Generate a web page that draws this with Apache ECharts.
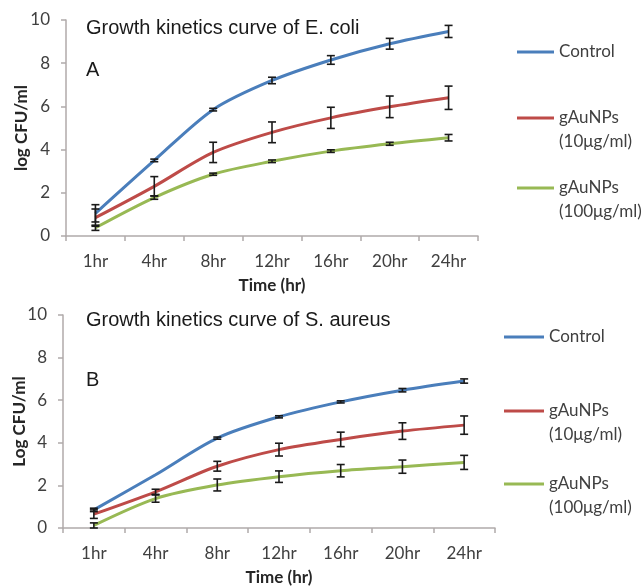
<!DOCTYPE html>
<html>
<head>
<meta charset="utf-8">
<script src="https://cdn.jsdelivr.net/npm/echarts@6/dist/echarts.min.js"></script>
<style>html,body{margin:0;padding:0;background:#fff;}#c{width:644px;height:588px;}</style>
</head>
<body>
<div id="c"></div>
<script>
const categories = ['1hr', '4hr', '8hr', '12hr', '16hr', '20hr', '24hr'];
const yTicks = [0, 2, 4, 6, 8, 10];
const seriesNames = ['Control', 'gAuNPs (10μg/ml)', 'gAuNPs (100μg/ml)'];

// E. coli (A)
const ecoliControl = [1.05, 3.5, 5.85, 7.2, 8.15, 8.9, 9.47];
const ecoliControlErr = [0.4, 0.06, 0.06, 0.15, 0.2, 0.25, 0.28];
const ecoliLow = [0.85, 2.3, 3.87, 4.8, 5.47, 5.98, 6.4];
const ecoliLowErr = [0.4, 0.45, 0.47, 0.48, 0.49, 0.5, 0.54];
const ecoliHigh = [0.38, 1.78, 2.86, 3.46, 3.93, 4.27, 4.55];
const ecoliHighErr = [0.12, 0.08, 0.05, 0.06, 0.06, 0.07, 0.15];

// S. aureus (B)
const saureusControl = [0.85, 2.5, 4.22, 5.22, 5.92, 6.47, 6.9];
const saureusControlErr = [0.08, 0, 0.05, 0.05, 0.05, 0.08, 0.1];
const saureusLow = [0.65, 1.7, 2.9, 3.68, 4.16, 4.55, 4.83];
const saureusLowErr = [0.2, 0.12, 0.23, 0.3, 0.34, 0.39, 0.43];
const saureusHigh = [0.12, 1.38, 2.02, 2.41, 2.69, 2.88, 3.08];
const saureusHighErr = [0.12, 0.17, 0.28, 0.27, 0.29, 0.31, 0.33];

const colors = ['#4a7ebb', '#be4b48', '#98b954'];
const axisGray = '#b0aaaa';
const labelColor = '#404040';
const font = 'Lato, "Open Sans", sans-serif';
const titleFont = '"Liberation Sans", Arial, sans-serif';

function errData(vals, errs) {
  return vals.map((v, i) => [i, v, errs[i]]);
}
function errRender(params, api) {
  const x = api.value(0), y = api.value(1), e = api.value(2);
  if (!e) return null;
  const t = api.coord([x, y + e]);
  const b = api.coord([x, y - e]);
  const hw = 4;
  const st = { stroke: '#1a1a1a', lineWidth: 1.6 };
  return {
    type: 'group',
    children: [
      { type: 'line', shape: { x1: t[0], y1: t[1], x2: b[0], y2: b[1] }, style: st },
      { type: 'line', shape: { x1: t[0] - hw, y1: t[1], x2: t[0] + hw, y2: t[1] }, style: st },
      { type: 'line', shape: { x1: b[0] - hw, y1: b[1], x2: b[0] + hw, y2: b[1] }, style: st }
    ]
  };
}

function xAxisDef(gridIndex) {
  return {
    type: 'category', gridIndex, data: categories, boundaryGap: true,
    name: 'Time (hr)', nameLocation: 'middle', nameGap: 41,
    nameTextStyle: { fontFamily: font, fontWeight: 'bold', fontSize: 17, color: '#262626' },
    axisLine: { lineStyle: { color: axisGray, width: 1.5 } },
    axisTick: { show: true, length: 5, lineStyle: { color: axisGray, width: 1.5 } },
    axisLabel: { fontFamily: font, fontSize: 17, color: labelColor, margin: 17 },
    splitLine: { show: false }
  };
}
function yAxisDef(gridIndex, name, gap) {
  return {
    type: 'value', gridIndex, min: yTicks[0], max: yTicks[yTicks.length - 1], interval: 2,
    name, nameLocation: 'middle', nameGap: gap, nameMoveOverlap: false,
    nameTextStyle: { fontFamily: font, fontWeight: 'bold', fontSize: 17, color: '#262626' },
    axisLine: { show: true, lineStyle: { color: axisGray, width: 1.5 } },
    axisTick: { show: true, length: 5, lineStyle: { color: axisGray, width: 1.5 } },
    axisLabel: { fontFamily: font, fontSize: 17, color: labelColor, margin: 16 },
    splitLine: { show: false }
  };
}

function lineSeries(name, data, idx, axisIdx) {
  return {
    type: 'line', name, data, xAxisIndex: axisIdx, yAxisIndex: axisIdx,
    smooth: 0.3, symbol: 'none', showSymbol: false,
    lineStyle: { color: colors[idx], width: 3 }, itemStyle: { color: colors[idx] },
    z: 2
  };
}
function errSeries(name, vals, errs, axisIdx) {
  return {
    type: 'custom', name: name + ' err', xAxisIndex: axisIdx, yAxisIndex: axisIdx,
    data: errData(vals, errs), renderItem: errRender, z: 5, silent: true
  };
}

function legendDef(name, left, top, w, two) {
  return {
    data: [name], left, top, orient: 'vertical', padding: 0,
    itemWidth: w, itemHeight: 3, icon: 'rect',
    formatter: n => two ? ' \n' + n.replace(' ', '\n') : n,
    textStyle: { fontFamily: font, fontSize: 17, color: labelColor, lineHeight: 24 },
    selectedMode: false
  };
}

function titleDef(text, top) {
  return {
    text, left: 86, top, padding: 0,
    textStyle: { fontFamily: titleFont, fontWeight: 'normal', fontSize: 20, color: '#1a1a1a', lineHeight: 22 }
  };
}

const chart = echarts.init(document.getElementById('c'), null, { renderer: 'canvas' });
chart.setOption({
  animation: false,
  backgroundColor: '#fff',
  title: [
    titleDef('Growth kinetics curve of E. coli', 17),
    titleDef('A', 59),
    titleDef('Growth kinetics curve of S. aureus', 309),
    titleDef('B', 369)
  ],
  legend: [
    legendDef(seriesNames[0], 517, 40, 37, false),
    legendDef(seriesNames[1], 517, 82, 37, true),
    legendDef(seriesNames[2], 517, 152, 37, true),
    legendDef(seriesNames[0], 504, 325, 40, false),
    legendDef(seriesNames[1], 504, 375, 40, true),
    legendDef(seriesNames[2], 504, 448, 40, true)
  ],
  grid: [
    { left: 66, top: 20, width: 412, height: 216 },
    { left: 63, top: 315, width: 432, height: 213 }
  ],
  xAxis: [xAxisDef(0), xAxisDef(1)],
  yAxis: [yAxisDef(0, 'log CFU/ml', 36), yAxisDef(1, 'Log CFU/ml', 35)],
  series: [
    lineSeries(seriesNames[0], ecoliControl, 0, 0),
    lineSeries(seriesNames[1], ecoliLow, 1, 0),
    lineSeries(seriesNames[2], ecoliHigh, 2, 0),
    lineSeries(seriesNames[0], saureusControl, 0, 1),
    lineSeries(seriesNames[1], saureusLow, 1, 1),
    lineSeries(seriesNames[2], saureusHigh, 2, 1),
    errSeries('A control', ecoliControl, ecoliControlErr, 0),
    errSeries('A low', ecoliLow, ecoliLowErr, 0),
    errSeries('A high', ecoliHigh, ecoliHighErr, 0),
    errSeries('B control', saureusControl, saureusControlErr, 1),
    errSeries('B low', saureusLow, saureusLowErr, 1),
    errSeries('B high', saureusHigh, saureusHighErr, 1)
  ]
});
</script>
</body>
</html>
